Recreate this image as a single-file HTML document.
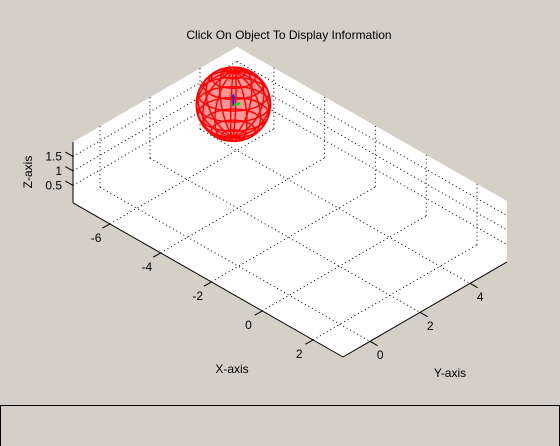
<!DOCTYPE html>
<html><head><meta charset="utf-8"><style>
html,body{margin:0;padding:0;background:#d4d0c8;}
#wrap{position:relative;width:560px;height:446px;overflow:hidden;background:#d4d0c8;font-family:"Liberation Sans",sans-serif;}
svg{position:absolute;left:0;top:0;}
#info{position:absolute;left:0;top:405px;width:558px;height:40px;border:1px solid #000;background:#d4d0c8;}
</style></head><body>
<div id="wrap">
<svg id="chart" width="560" height="446"></svg>
<div id="info"></div>
</div>
<script>
const xTicks=[-6,-4,-2,0,2];
const yTicks=[0,2,4];
const zTicks=[0.5,1,1.5];
const xRange=[-7.45,3.18];
const yRange=[-1.08,5.48];
const zRange=[-0.1,2];
const sphereCenter=[-6.55,4.42,1];
const sphereRadius=1.28;

const NS="http://www.w3.org/2000/svg";
const svg=document.getElementById('chart');
const O=[343,357];
function P(x,y,z){
  const dx=x-xRange[1], dy=y-yRange[0], dz=z-zRange[0];
  return [O[0]+25.4*dx+25*dy, O[1]+14.5*dx-14.5*dy-29*dz];
}
function el(tag,attrs,name,inter){
  const e=document.createElementNS(NS,tag);
  for(const k in attrs)e.setAttribute(k,attrs[k]);
  
  
  svg.appendChild(e);return e;
}
function line(a,b,name,dash){
  const e=document.createElementNS(NS,'line');
  e.setAttribute('x1',a[0]);e.setAttribute('y1',a[1]);e.setAttribute('x2',b[0]);e.setAttribute('y2',b[1]);
  e.setAttribute('stroke','#000');e.setAttribute('stroke-width','1');
  if(dash)e.setAttribute('stroke-dasharray','1,3');
  
  
  svg.appendChild(e);return e;
}
function text(x,y,s,name,anchor,extra){
  const t=document.createElementNS(NS,'text');
  t.setAttribute('x',x);t.setAttribute('y',y);t.setAttribute('font-size','12');
  t.setAttribute('font-family','Liberation Sans, sans-serif');
  t.setAttribute('text-anchor',anchor||'middle');
  if(extra)for(const k in extra)t.setAttribute(k,extra[k]);
  t.textContent=s;
  
  
  svg.appendChild(t);return t;
}
const [x0,x1]=xRange,[y0,y1]=yRange,[z0,z1]=zRange;
const pts=[P(x0,y0,z0),P(x1,y0,z0),P(x1,y1,z0),P(x1,y1,z1),P(x0,y1,z1),P(x0,y0,z1)];
el('polygon',{points:pts.map(p=>p.join(',')).join(' '),fill:'#fff',stroke:'none'},'axes-background',false);
xTicks.forEach(x=>{
  line(P(x,y0,z0),P(x,y1,z0),'grid-x-floor',true);
  line(P(x,y1,z0),P(x,y1,z1),'grid-x-wall',true);
});
yTicks.forEach(y=>{
  line(P(x0,y,z0),P(x1,y,z0),'grid-y-floor',true);
  line(P(x0,y,z0),P(x0,y,z1),'grid-y-wall',true);
});
zTicks.forEach(z=>{
  line(P(x0,y0,z),P(x0,y1,z),'grid-z-left-wall',true);
  line(P(x0,y1,z),P(x1,y1,z),'grid-z-back-wall',true);
});
line(P(x0,y0,z0),P(x1,y0,z0),'x-axis-line');
line(P(x1,y0,z0),P(x1,y1,z0),'y-axis-line');
line(P(x0,y0,z0),P(x0,y0,z1),'z-axis-line');
xTicks.forEach(x=>{
  const a=P(x,y0,z0),b=P(x,y0-0.3,z0);
  line(a,b,'x-tick');
  const l=P(x,y0-0.55,z0);
  text(l[0],l[1]+10,String(x),'x-tick-label');
});
yTicks.forEach(y=>{
  const a=P(x1,y,z0),b=P(x1+0.3,y,z0);
  line(a,b,'y-tick');
  const l=P(x1+0.4,y,z0);
  text(l[0],l[1]+12,String(y),'y-tick-label');
});
zTicks.forEach(z=>{
  const a=P(x0,y0,z),b=P(x0-0.3,y0,z);
  line(a,b,'z-tick');
  text(62,a[1]+4,String(z),'z-tick-label','end');
});
const c=P(...sphereCenter);
const R=sphereRadius*29;
el('circle',{cx:c[0],cy:c[1],r:R,fill:'#ff6a6a','fill-opacity':'0.7',stroke:'#ff0000','stroke-width':'1.5'},'sphere-object',true);
const g=document.createElementNS(NS,'g');


svg.appendChild(g);
const tilt=0.5,rot=0.6;
function proj(u,v){
  let X=Math.cos(v)*Math.cos(u),Y=Math.cos(v)*Math.sin(u),Z=Math.sin(v);
  let X1=X*Math.cos(rot)-Y*Math.sin(rot),Y1=X*Math.sin(rot)+Y*Math.cos(rot);
  let Z2=Y1*Math.sin(tilt)+Z*Math.cos(tilt);
  return [c[0]+X1*R,c[1]-Z2*R];
}
function pl(arr){
  const p=document.createElementNS(NS,'polyline');
  p.setAttribute('points',arr.map(q=>q.join(',')).join(' '));
  p.setAttribute('fill','none');p.setAttribute('stroke','#ff0000');p.setAttribute('stroke-width','1.4');
  g.appendChild(p);
}
for(let i=0;i<14;i++){const u=i*Math.PI/7,a=[];for(let j=0;j<=24;j++)a.push(proj(u,-Math.PI/2+j*Math.PI/24));pl(a);}
for(let j=1;j<10;j++){const v=-Math.PI/2+j*Math.PI/10,a=[];for(let i=0;i<=36;i++)a.push(proj(i*Math.PI/18,v));pl(a);}
const t1=document.createElementNS(NS,'line');
t1.setAttribute('x1',c[0]);t1.setAttribute('y1',c[1]+2);t1.setAttribute('x2',c[0]);t1.setAttribute('y2',c[1]-10);
t1.setAttribute('stroke','#0000ff');t1.setAttribute('stroke-width','2');


svg.appendChild(t1);
const t2=document.createElementNS(NS,'line');
t2.setAttribute('x1',c[0]);t2.setAttribute('y1',c[1]+1);t2.setAttribute('x2',c[0]+7);t2.setAttribute('y2',c[1]-1);
t2.setAttribute('stroke','#00dd00');t2.setAttribute('stroke-width','2');


svg.appendChild(t2);
text(289,39,'Click On Object To Display Information','chart-title');
text(232,373,'X-axis','x-axis-title');
text(450,377,'Y-axis','y-axis-title');
text(0,0,'Z-axis','z-axis-title','middle',{transform:'translate(32,172) rotate(-90)'});
</script>
</body></html>
